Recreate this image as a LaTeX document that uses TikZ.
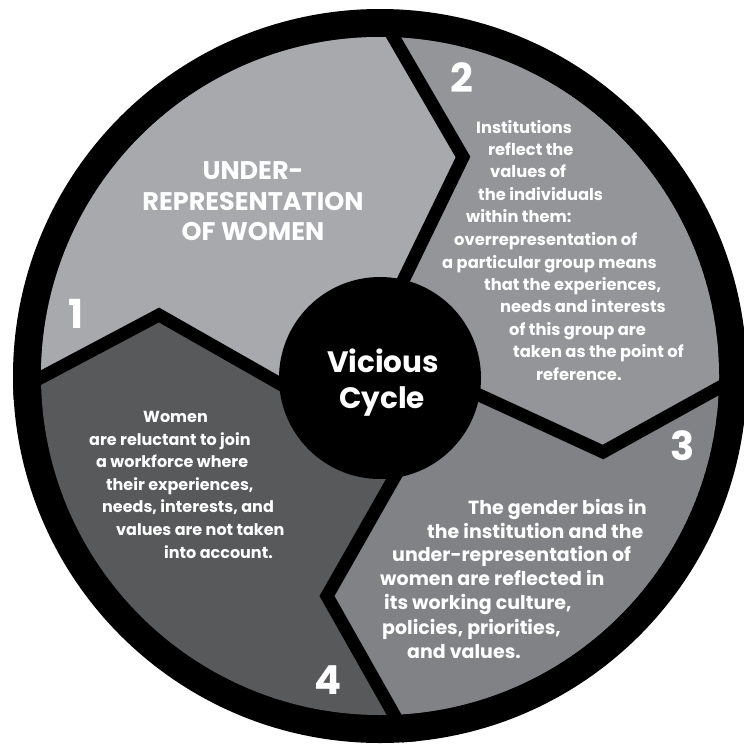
\documentclass[tikz,border=0pt]{standalone}
\usepackage{fontspec}
\setmainfont{Poppins}
\definecolor{gA}{HTML}{A7A9AC}
\definecolor{gB}{HTML}{939598}
\definecolor{gC}{HTML}{808285}
\definecolor{gD}{HTML}{58595B}
\begin{document}
\begin{tikzpicture}[x=1pt,y=-1pt,
  txt/.style={text=white,anchor=base west,inner sep=0pt,font=\bfseries},
  ctxt/.style={text=white,anchor=base,inner sep=0pt,font=\bfseries},
  divider/.style={draw=black,line width=13pt,line join=miter}]
\useasboundingbox (0,0) rectangle (744,744);
\fill[white] (0,0) rectangle (744,744);
% coordinates
\coordinate (C) at (380,378);
\coordinate (P12o) at (380,14);  \coordinate (A12) at (463,157); \coordinate (I12) at (384,320);
\coordinate (P14o) at (10,394);  \coordinate (A14) at (159,315); \coordinate (I14) at (340,418);
\coordinate (P23o) at (760,365); \coordinate (A23) at (603,452); \coordinate (I23) at (440,377);
\coordinate (P34o) at (414,750); \coordinate (A34) at (327,596); \coordinate (I34) at (410,450);
% outer ring
\fill[black] (380,376) circle (367);
\begin{scope}
  \clip (380,376) circle (339);
  \fill[gD] (380,376) circle (339);
  \fill[gA] (C) -- (I14) -- (A14) -- (P14o) -- (-50,394) -- (-50,-50) -- (380,-50) -- (P12o) -- (A12) -- (I12) -- cycle;
  \fill[gB] (C) -- (I12) -- (A12) -- (P12o) -- (380,-50) -- (800,-50) -- (800,365) -- (P23o) -- (A23) -- (I23) -- cycle;
  \fill[gC] (C) -- (I23) -- (A23) -- (P23o) -- (800,365) -- (800,800) -- (414,800) -- (P34o) -- (A34) -- (I34) -- cycle;
\end{scope}
\begin{scope}
  \clip (380,376) circle (367);
  \draw[divider] (P12o) -- (A12) -- (I12);
  \draw[divider] (P14o) -- (A14) -- (I14);
  \draw[divider] (P23o) -- (A23) -- (I23);
  \draw[divider] (P34o) -- (A34) -- (I34);
\end{scope}
% centre
\fill[black] (C) circle (101);
\node[ctxt,font=\bfseries\fontsize{29.5}{34}\selectfont] (v1) at (383,372) {Vicious};
\node[ctxt,font=\bfseries\fontsize{29.5}{34}\selectfont] (v2) at (382,408) {Cycle};
% numbers
\node[ctxt,font=\bfseries\fontsize{40}{44}\selectfont] (n1) at (76,328) {1};
\node[ctxt,font=\bfseries\fontsize{40}{44}\selectfont] (n2) at (462,92) {2};
\node[ctxt,font=\bfseries\fontsize{40}{44}\selectfont] (n3) at (683,460) {3};
\node[ctxt,font=\bfseries\fontsize{40}{44}\selectfont] (n4) at (328,694) {4};
% region 1
\begin{scope}[every node/.style={ctxt,font=\bfseries\fontsize{25.5}{28}\selectfont}]
\node (t1a) at (253,179) {UNDER-};
\node (t1b) at (253,210) {REPRESENTATION};
\node (t1c) at (253,240) {OF WOMEN};
\end{scope}
% region 2
\begin{scope}[every node/.style={txt,font=\bfseries\fontsize{16.3}{19}\selectfont}]
\node (t2a) at (476,133) {Institutions};
\node (t2b) at (488,155) {reflect the};
\node (t2c) at (490,177) {values of};
\node (t2d) at (478,200) {the individuals};
\node (t2e) at (466,222) {within them:};
\node (t2f) at (454,245) {overrepresentation of};
\node (t2g) at (442,268) {a particular group means};
\node (t2h) at (484,290) {that the experiences,};
\node (t2i) at (500,312) {needs and interests};
\node (t2j) at (509,335) {of this group are};
\node (t2k) at (513,357) {taken as the point of};
\node (t2l) at (536,380) {reference.};
\end{scope}
% region 3
\begin{scope}[every node/.style={txt,font=\bfseries\fontsize{19}{22}\selectfont}]
\node (t3a) at (468,514) {The gender bias in};
\node (t3b) at (427,538) {the institution and the};
\node (t3c) at (392,561) {under-representation of};
\node (t3d) at (380,585) {women are reflected in};
\node (t3e) at (384,609) {its working culture,};
\node (t3f) at (382,634) {policies, priorities,};
\node (t3g) at (407,658) {and values.};
\end{scope}
% region 4
\begin{scope}[every node/.style={txt,font=\bfseries\fontsize{16}{19}\selectfont}]
\node (t4a) at (143,422) {Women};
\node (t4b) at (89,445) {are reluctant to join};
\node (t4c) at (96,467) {a workforce where};
\node (t4d) at (106,490) {their experiences,};
\node (t4e) at (102,512) {needs, interests, and};
\node (t4f) at (116,535) {values are not taken};
\node (t4g) at (164,558) {into account.};
\end{scope}
\end{tikzpicture}
\end{document}
